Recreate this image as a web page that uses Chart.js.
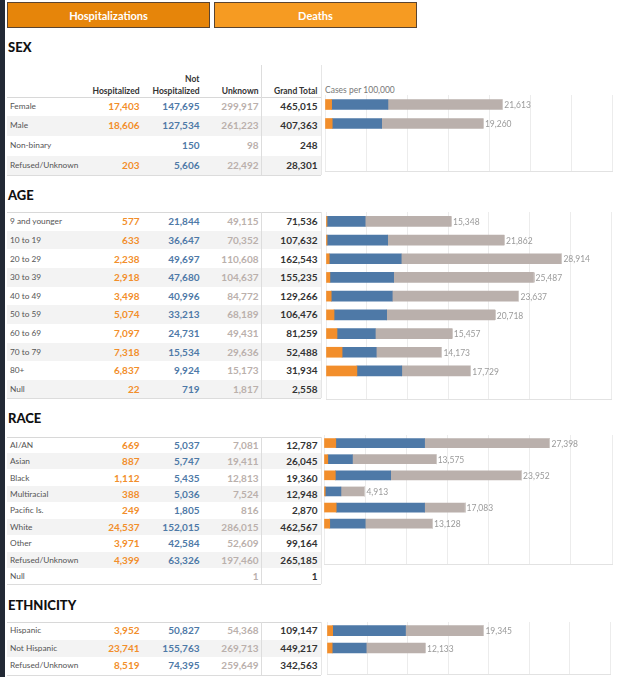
<!DOCTYPE html>
<html>
<head>
<meta charset="utf-8">
<script src="https://cdn.jsdelivr.net/npm/chart.js@4.4.1/dist/chart.umd.min.js"></script>
<style>
  body { margin: 0; background: #fff; font-family: Lato, "Open Sans", sans-serif; }
  #page { position: relative; width: 618px; height: 677px; overflow: hidden; }
  .abs { position: absolute; white-space: nowrap; }
  .btn { position: absolute; top: 2px; height: 26px; line-height: 25px; text-align: center;
         color: #fff; font-weight: 700; font-size: 11px; box-sizing: border-box; border: 1px solid #5a4430; }
  .head { position: absolute; left: 8px; font-weight: 900; font-size: 13px; color: #111; line-height: 16px; }
  .lbl { font-size: 8.3px; color: #555; }
  .num { font-size: 10px; font-weight: 700; text-align: right; }
  .hdr { font-size: 8.5px; font-weight: 700; color: #333; text-align: right; }
</style>
</head>
<body>
<div id="page">
  <div class="abs" style="left:0;top:0;width:5px;height:677px;background:#222935"></div>
  <div class="btn" style="left:7px;width:203px;background:#E6850A">Hospitalizations</div>
  <div class="btn" style="left:214px;width:203px;background:#F69B22">Deaths</div>
</div>
<script>
// ---------------- data -----------------
const sexLabels = ['Female', 'Male', 'Non-binary', 'Refused/Unknown'];
const sexHosp = [17403, 18606, null, 203];
const sexNotHosp = [147695, 127534, 150, 5606];
const sexUnknown = [299917, 261223, 98, 22492];
const sexTotal = [465015, 407363, 248, 28301];
const sexRateHosp = [809, 880, null, null];
const sexRateNot = [6864, 6030, null, null];
const sexRateUnk = [13940, 12351, null, null];
const sexRateTotal = [21613, 19260, null, null];

const ageLabels = ['9 and younger', '10 to 19', '20 to 29', '30 to 39', '40 to 49', '50 to 59', '60 to 69', '70 to 79', '80+', 'Null'];
const ageHosp = [577, 633, 2238, 2918, 3498, 5074, 7097, 7318, 6837, 22];
const ageNotHosp = [21844, 36647, 49697, 47680, 40996, 33213, 24731, 15534, 9924, 719];
const ageUnknown = [49115, 70352, 110608, 104637, 84772, 68189, 49431, 29636, 15173, 1817];
const ageTotal = [71536, 107632, 162543, 155235, 129266, 106476, 81259, 52488, 31934, 2558];
const ageRateHosp = [124, 129, 398, 479, 640, 987, 1350, 1976, 3796, null];
const ageRateNot = [4687, 7444, 8840, 7828, 7496, 6463, 4704, 4195, 5510, null];
const ageRateUnk = [10537, 14290, 19676, 17180, 15501, 13268, 9403, 8002, 8424, null];
const ageRateTotal = [15348, 21862, 28914, 25487, 23637, 20718, 15457, 14173, 17729, null];

const raceLabels = ['AI/AN', 'Asian', 'Black', 'Multiracial', 'Pacific Is.', 'White', 'Other', 'Refused/Unknown', 'Null'];
const raceHosp = [669, 887, 1112, 388, 249, 24537, 3971, 4399, null];
const raceNotHosp = [5037, 5747, 5435, 5036, 1805, 152015, 42584, 63326, null];
const raceUnknown = [7081, 19411, 12813, 7524, 816, 286015, 52609, 197460, 1];
const raceTotal = [12787, 26045, 19360, 12948, 2870, 462567, 99164, 265185, 1];
const raceRateHosp = [1433, 462, 1376, 147, 1482, 696, null, null];
const raceRateNot = [10793, 2995, 6724, 1911, 10744, 4314, null, null];
const raceRateUnk = [15172, 10117, 15852, 2855, 4857, 8117, null, null];
const raceRateTotal = [27398, 13575, 23952, 4913, 17083, 13128, null, null];

const ethLabels = ['Hispanic', 'Not Hispanic', 'Refused/Unknown'];
const ethHosp = [3952, 23741, 8519];
const ethNotHosp = [50827, 155763, 74395];
const ethUnknown = [54368, 269713, 259649];
const ethTotal = [109147, 449217, 342563];
const ethRateHosp = [700, 641, null];
const ethRateNot = [9008, 4207, null];
const ethRateUnk = [9636, 7285, null];
const ethRateTotal = [19345, 12133, null];

const axisMax = 35000;
const axisStep = 5000;

// ---------------- layout -----------------
const page = document.getElementById('page');
const colRight = [139.5, 199.5, 258.5, 317.5];
const colColor = ['#F28E2B', '#4E79A7', '#BAB0AC', '#333333'];

function put(cls, text, css) {
  const d = document.createElement('div');
  d.className = 'abs ' + cls;
  d.textContent = text;
  Object.assign(d.style, css);
  page.appendChild(d);
  return d;
}
function fmt(v) { return v == null ? '' : v.toLocaleString('en-US'); }

function section(cfg) {
  const n = cfg.labels.length;
  const bottom = cfg.top + n * cfg.rowH;
  put('head', cfg.title, { top: (cfg.headY - 8) + 'px' });

  // shaded rows
  for (let i = 1; i < n; i += 2) {
    put('', '', { left: '7px', width: '314px', top: (cfg.top + i * cfg.rowH) + 'px',
      height: cfg.rowH + 'px', background: '#f3f3f3' });
  }
  // lines
  put('', '', { left: '7px', width: '314px', top: cfg.top + 'px', height: '1px', background: '#d8d8d8' });
  put('', '', { left: '7px', width: '314px', top: bottom + 'px', height: '1px', background: '#dcdcdc' });
  put('', '', { left: '261px', width: '1px', top: cfg.lineTop + 'px', height: (bottom - cfg.lineTop) + 'px', background: '#dddddd' });
  put('', '', { left: '321px', width: '1px', top: cfg.lineTop + 'px', height: (bottom - cfg.lineTop) + 'px', background: '#e6e6e6' });

  const cols = [cfg.hosp, cfg.notHosp, cfg.unknown, cfg.total];
  for (let i = 0; i < n; i++) {
    const y = cfg.top + i * cfg.rowH;
    put('lbl', cfg.labels[i], { left: '10px', top: y + 'px', height: cfg.rowH + 'px', lineHeight: cfg.rowH + 'px' });
    cols.forEach((arr, c) => {
      put('num', fmt(arr[i]), { left: (colRight[c] - 70) + 'px', width: '70px', top: y + 'px',
        height: cfg.rowH + 'px', lineHeight: cfg.rowH + 'px', color: colColor[c] });
    });
  }

  // bar chart
  const ch = cfg.chart;
  const cv = document.createElement('canvas');
  cv.width = ch.w + 2;
  cv.height = ch.h + 1;
  Object.assign(cv.style, { position: 'absolute', left: ch.left + 'px', top: ch.top + 'px' });
  page.appendChild(cv);

  const totals = cfg.rateTotal;
  const totalLabels = {
    id: 'totalLabels',
    afterDatasetsDraw(chart) {
      const ctx = chart.ctx;
      const meta = chart.getDatasetMeta(chart.data.datasets.length - 1);
      ctx.save();
      ctx.font = '8.5px Lato';
      ctx.textBaseline = 'middle';
      totals.forEach((v, i) => {
        if (v == null) return;
        const bar = meta.data[i];
        ctx.fillStyle = '#d0cac7';
        ctx.fillRect(Math.round(bar.x), bar.y - 5, 1, 10);
        ctx.fillStyle = '#9a9a9a';
        ctx.fillText(fmt(v), bar.x + 2, bar.y + 1);
      });
      ctx.restore();
    }
  };

  new Chart(cv, {
    type: 'bar',
    data: {
      labels: cfg.labels.slice(0, ch.rows),
      datasets: [
        { label: 'Hospitalized', data: cfg.rateHosp, backgroundColor: '#F28E2B' },
        { label: 'Not Hospitalized', data: cfg.rateNot, backgroundColor: '#4E79A7' },
        { label: 'Unknown', data: cfg.rateUnk, backgroundColor: '#BAB0AC' }
      ]
    },
    options: {
      indexAxis: 'y',
      responsive: false,
      animation: false,
      devicePixelRatio: 1,
      layout: { padding: { left: 0, right: 2, top: 0, bottom: 1 } },
      datasets: { bar: { barThickness: ch.bar, borderWidth: 0 } },
      plugins: { legend: { display: false }, tooltip: { enabled: false } },
      scales: {
        x: {
          stacked: true,
          min: 0,
          max: axisMax,
          afterFit: s => { s.height = 0; },
          ticks: { display: false, stepSize: axisStep },
          grid: { color: '#ececec', drawTicks: false },
          border: { color: '#e2e2e2' }
        },
        y: { stacked: true, display: false }
      }
    },
    plugins: [totalLabels]
  });
}

// sex header
put('hdr', 'Not', { left: '129.5px', width: '70px', top: '74px', lineHeight: '11px' });
put('hdr', 'Hospitalized', { left: '69.5px', width: '70px', top: '86px', lineHeight: '11px' });
put('hdr', 'Hospitalized', { left: '129.5px', width: '70px', top: '86px', lineHeight: '11px' });
put('hdr', 'Unknown', { left: '188.5px', width: '70px', top: '86px', lineHeight: '11px' });
put('hdr', 'Grand Total', { left: '247.5px', width: '70px', top: '86px', lineHeight: '11px' });
put('lbl', 'Cases per 100,000', { left: '325px', top: '84px', lineHeight: '12px', fontSize: '8.5px', color: '#777' });

section({ title: 'SEX', headY: 47, top: 96.7, rowH: 19.6, lineTop: 65,
  labels: sexLabels, hosp: sexHosp, notHosp: sexNotHosp, unknown: sexUnknown, total: sexTotal,
  rateHosp: sexRateHosp, rateNot: sexRateNot, rateUnk: sexRateUnk, rateTotal: sexRateTotal,
  chart: { left: 325, top: 95, w: 287, h: 76, bar: 10, rows: 4 } });

section({ title: 'AGE', headY: 195, top: 212.3, rowH: 18.6, lineTop: 212.3,
  labels: ageLabels, hosp: ageHosp, notHosp: ageNotHosp, unknown: ageUnknown, total: ageTotal,
  rateHosp: ageRateHosp, rateNot: ageRateNot, rateUnk: ageRateUnk, rateTotal: ageRateTotal,
  chart: { left: 326, top: 212, w: 285, h: 187, bar: 10, rows: 10 } });

section({ title: 'RACE', headY: 418, top: 436.7, rowH: 16.4, lineTop: 436.7,
  labels: raceLabels, hosp: raceHosp, notHosp: raceNotHosp, unknown: raceUnknown, total: raceTotal,
  rateHosp: raceRateHosp, rateNot: raceRateNot, rateUnk: raceRateUnk, rateTotal: raceRateTotal,
  chart: { left: 324, top: 435, w: 288, h: 129, bar: 9, rows: 8 } });

section({ title: 'ETHNICITY', headY: 605, top: 622.3, rowH: 17.5, lineTop: 622.3,
  labels: ethLabels, hosp: ethHosp, notHosp: ethNotHosp, unknown: ethUnknown, total: ethTotal,
  rateHosp: ethRateHosp, rateNot: ethRateNot, rateUnk: ethRateUnk, rateTotal: ethRateTotal,
  chart: { left: 327, top: 622, w: 283, h: 52, bar: 10, rows: 3 } });
</script>
</body>
</html>
